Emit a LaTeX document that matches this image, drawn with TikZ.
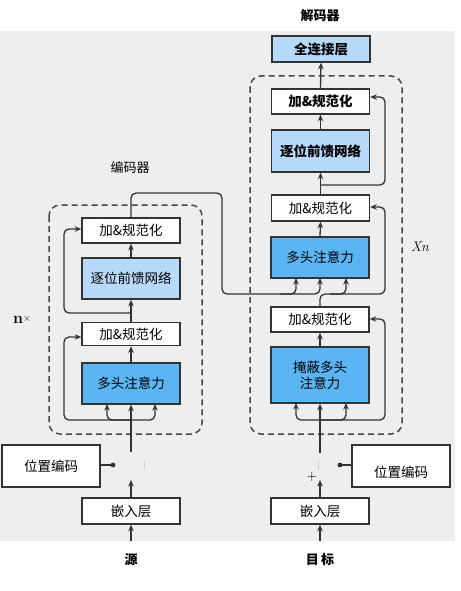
\documentclass[tikz,border=0pt]{standalone}
\usepackage{fontspec}
\newfontfamily\cjk{Noto Sans CJK SC}
\usetikzlibrary{arrows.meta,calc}
\definecolor{lblue}{HTML}{B8DAFA}
\definecolor{mblue}{HTML}{5BB5F3}
\definecolor{bggrey}{HTML}{EEEEEE}
\definecolor{edge}{HTML}{333333}
\tikzset{
  box/.style={draw=edge, line width=1.5pt, minimum width=98pt, inner sep=0pt, font=\cjk\fontsize{13.5}{16}\selectfont, align=center},
  wbox/.style={box, fill=white},
  lbox/.style={box, fill=lblue},
  bbox/.style={box, fill=mblue},
  arr/.style={draw=edge, line width=1.3pt, -{Stealth[length=6.5pt,width=5.5pt]}},
  ln/.style={draw=edge, line width=1.3pt},
  dbox/.style={draw=edge!90, line width=1.5pt, dash pattern=on 6pt off 4pt, rounded corners=11pt},
  lbl/.style={font=\cjk\fontsize{13}{15}\selectfont},
  bfl/.style={font=\cjk\bfseries\fontsize{13.5}{16}\selectfont}
}
\begin{document}
\begin{tikzpicture}[x=1pt,y=-1pt]
\useasboundingbox (0,0) rectangle (460,591);
\fill[bggrey] (0,31) rectangle (455,541);

% labels
\node[lbl, font=\cjk\bfseries\fontsize{13}{15}\selectfont] (declbl) at (320,16) {解码器};
\node[lbl] (enclbl) at (130,168) {编码器};
\node[font=\fontsize{16}{18}\selectfont] (nx) at (22,320) {\textbf{n}\raisebox{2pt}{\fontsize{10}{11}\selectfont$\times$}};
\node[font=\fontsize{14}{16}\selectfont\itshape] (xn) at (420,247) {Xn};
\node[lbl, font=\cjk\bfseries\fontsize{13}{15}\selectfont] (src) at (131,560) {源};
\node[lbl, font=\cjk\bfseries\fontsize{13}{15}\selectfont] (tgt) at (320,560) {目\,标};

% dashed groups
\draw[dbox] (49,205) rectangle (202,434);
\draw[dbox] (250,76) rectangle (402,434);

% encoder
\node[wbox, minimum height=25pt] (eAN2) at (131,230.5) {加\&规范化};
\node[lbox, minimum height=41pt] (eFFN) at (131,278.5) {逐位前馈网络};
\node[wbox, minimum height=23pt] (eAN1) at (131,334) {加\&规范化};
\node[bbox, minimum height=41pt] (eMHA) at (131,383.5) {多头注意力};
\node[wbox, minimum height=26pt] (eEmb) at (131,511) {嵌入层};
\node[wbox, minimum height=42pt] (ePos) at (51,466) {位置编码};

% decoder
\node[lbox, bfl, minimum height=26pt] (fc) at (321,49) {全连接层};
\node[wbox, bfl, minimum height=25pt] (dAN3) at (320.5,101.5) {加\&规范化};
\node[lbox, bfl, minimum height=42pt] (dFFN) at (320.5,151) {逐位前馈网络};
\node[wbox, minimum height=26pt] (dAN2) at (320.5,208) {加\&规范化};
\node[bbox, minimum height=41pt] (dMHA) at (320,257.5) {多头注意力};
\node[wbox, minimum height=25pt] (dAN1) at (320,319.5) {加\&规范化};
\node[bbox, minimum height=56pt] (dMMHA) at (320,375) {掩蔽多头\\注意力};
\node[wbox, minimum height=26pt] (dEmb) at (320,511) {嵌入层};
\node[wbox, minimum height=42pt] (dPos) at (401,466) {\smash{\raisebox{-11pt}{位置编码}}};

% coordinates
\coordinate (eIn) at (131,541);
\coordinate (eEmbTop) at (131,480);
\coordinate (eUp) at (131,452);
\coordinate (eJ1) at (131,420);
\coordinate (eJ2) at (131,313);
\coordinate (eDot) at (113,465);
\coordinate (dIn) at (320,541);
\coordinate (dEmbTop) at (320,480);
\coordinate (dUp) at (320,453);
\coordinate (dJ1) at (320,420);
\coordinate (dJ3) at (320,185);
\coordinate (dDot) at (340,465);

% encoder connectors
\draw[arr] (eIn) -- (eEmb.south);
\draw[arr] (eEmb.north) -- (eEmbTop);
\draw[arr] (eUp) -- (eMHA.south);
\draw[arr, rounded corners=5pt] (eJ1) -- (64,420) -- (64,337) -- (eAN1.west |- 0,337);
\draw[arr, rounded corners=5pt] (eJ1) -- (107,420) -- (107,404);
\draw[arr, rounded corners=5pt] (eJ1) -- (155,420) -- (155,404);
\draw[arr] (eMHA.north) -- (eAN1.south);
\draw[arr] (eAN1.north) -- (eFFN.south);
\draw[arr, rounded corners=5pt] (eJ2) -- (64,313) -- (64,229) -- (eAN2.west |- 0,229);
\draw[arr] (eFFN.north) -- (eAN2.south);
\draw[arr, rounded corners=5pt] (eAN2.north) -- (131,193) -- (222,193) -- (222,294) -- (320,294) -- (320,278);
\draw[arr, rounded corners=5pt] (280,294) -- (296,294) -- (296,278);
\draw[ln] (ePos.east |- eDot) -- (eDot);
\fill[edge] (eDot) circle (2.4pt);
\draw[gray!40, line width=0.6pt] (144,461) -- (144,469);

% decoder connectors
\draw[arr] (dIn) -- (dEmb.south);
\draw[arr] (dEmb.north) -- (dEmbTop);
\draw[ln] (dUp) -- (dJ1);
\draw[arr] (dJ1) -- (dMMHA.south);
\draw[arr, rounded corners=5pt] (dJ1) -- (385,420) -- (385,319) -- (dAN1.east |- 0,319);
\draw[arr, rounded corners=5pt] (dJ1) -- (296,420) -- (296,403);
\draw[arr, rounded corners=5pt] (dJ1) -- (346,420) -- (346,403);
\draw[arr] (dMMHA.north) -- (dAN1.south);
\draw[arr, rounded corners=5pt] (dAN1.north) -- (320,294) -- (385,294) -- (385,207) -- (dAN2.east |- 0,207);
\draw[arr, rounded corners=5pt] (330,294) -- (346,294) -- (346,278);
\draw[arr] (dMHA.north) -- (dAN2.south);
\draw[arr] (dAN2.north) -- (dFFN.south);
\draw[arr, rounded corners=5pt] (dJ3) -- (385,185) -- (385,97) -- (dAN3.east |- 0,97);
\draw[arr] (dFFN.north) -- (dAN3.south);
\draw[arr] (dAN3.north) -- (fc.south);
\draw[ln] (dPos.west |- dDot) -- (dDot);
\fill[edge] (dDot) circle (2.4pt);
\node[font=\fontsize{14}{14}\selectfont, inner sep=0pt] (plus) at (312,477) {+};
\draw[gray!40, line width=0.6pt] (318,460) -- (318,470);
\end{tikzpicture}
\end{document}
